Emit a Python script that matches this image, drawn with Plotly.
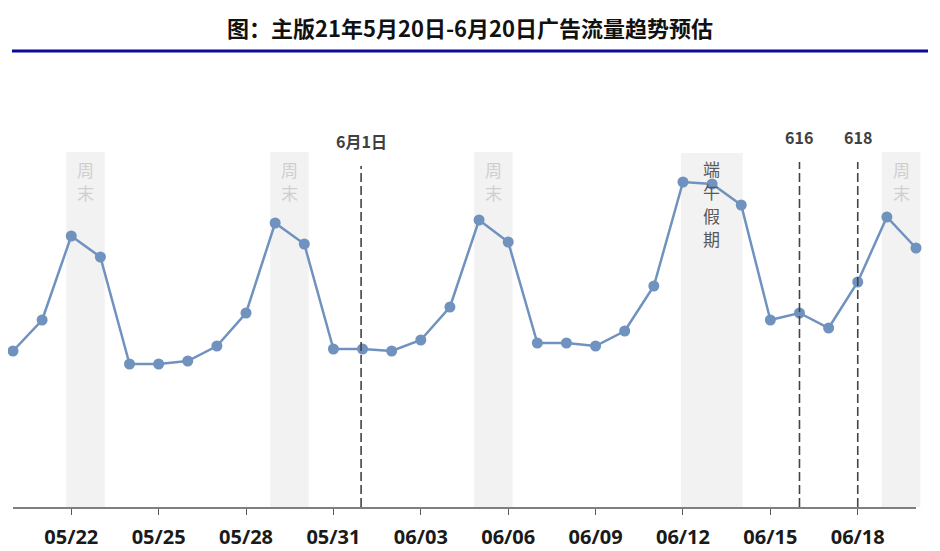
import plotly.graph_objects as go

# 每日广告流量 (相对值, 从图上估读)
dates = ["05/20", "05/21", "05/22", "05/23", "05/24", "05/25", "05/26", "05/27",
         "05/28", "05/29", "05/30", "05/31", "06/01", "06/02", "06/03", "06/04",
         "06/05", "06/06", "06/07", "06/08", "06/09", "06/10", "06/11", "06/12",
         "06/13", "06/14", "06/15", "06/16", "06/17", "06/18", "06/19", "06/20"]
traffic = [156, 187, 271, 250, 143, 143, 146, 161,
           194, 284, 263, 158, 158, 156, 167, 200,
           287, 265, 164, 164, 161, 176, 221, 325,
           323, 302, 187, 194, 179, 225, 290, 259]
tick_labels = ["05/22", "05/25", "05/28", "05/31", "06/03",
               "06/06", "06/09", "06/12", "06/15", "06/18"]

# 周末 / 节假日区间
weekends = [("05/22", "05/23"), ("05/29", "05/30"), ("06/05", "06/06"), ("06/19", "06/20")]
weekend_text = "周末"
holiday = ("06/12", "06/14")
holiday_text = "端午假期"
events = [("06/01", "6月1日"), ("06/16", "616"), ("06/18", "618")]

title = "图：主版21年5月20日-6月20日广告流量趋势预估"

OFF = 8  # body margin of the page
W, H = 940 - OFF, 551 - OFF
L, R, T, B = 13 - OFF, 24, 100 - OFF, 44
PW, PH = W - L - R, H - T - B
n = len(dates) - 1


def px(xp):
    return (xp - OFF - L) / PW


def py_(yp):
    return (H - B - (yp - OFF)) / PH


def idx_paper(d, pad=0.0):
    return (dates.index(d) + pad) / n


line_color = "#7092BE"
fig = go.Figure()

shapes = []
annotations = []

# vertical text, one annotation per character
def vtext(xc, y_first, text, color, step=23.5):
    for k, ch in enumerate(text):
        annotations.append(dict(x=xc, y=py_(y_first + step * k), xref="paper", yref="paper",
                                text=ch, showarrow=False, xanchor="center", yanchor="middle",
                                font=dict(family="Noto Sans CJK SC", size=17, color=color)))


for a, b in weekends:
    x0, x1 = idx_paper(a, -0.17), idx_paper(b, 0.15)
    shapes.append(dict(type="rect", xref="paper", yref="paper", x0=x0, x1=x1,
                       y0=0, y1=py_(152), fillcolor="#F2F2F2", line_width=0, layer="below"))
    vtext((x0 + x1) / 2, 169, weekend_text, "#CFCFCF")

x0, x1 = idx_paper(holiday[0], -0.07), idx_paper(holiday[1], 0.05)
shapes.append(dict(type="rect", xref="paper", yref="paper", x0=x0, x1=x1,
                   y0=0, y1=py_(153), fillcolor="#F2F2F2", line_width=0, layer="below"))
vtext((x0 + x1) / 2, 168, holiday_text, "#595959")

for d, label in events:
    top = 166 if label == "6月1日" else 162
    ly = 141 if label == "6月1日" else 137
    xe = idx_paper(d, -0.05 if label == "6月1日" else 0)
    shapes.append(dict(type="line", xref="paper", yref="paper", x0=xe, x1=xe,
                       y0=0, y1=py_(top), line=dict(color="#444444", width=1.6, dash="9px,4px")))
    annotations.append(dict(x=xe, y=py_(ly), xref="paper", yref="paper", text=label,
                            showarrow=False, xanchor="center", yanchor="middle",
                            font=dict(family="Noto Sans CJK SC", size=16, color="#404040",
                                      weight="bold")))

# 标题与下划线
annotations.append(dict(x=px(470), y=py_(27), xref="paper", yref="paper", text=title,
                        showarrow=False, xanchor="center", yanchor="middle",
                        font=dict(family="Noto Sans CJK SC", size=22, color="#111111",
                                  weight="bold")))
shapes.append(dict(type="line", xref="paper", yref="paper", x0=px(12), x1=px(928),
                   y0=py_(51), y1=py_(51), line=dict(color="#0A0A9A", width=3)))

fig.add_trace(go.Scatter(
    x=dates, y=traffic, mode="lines+markers",
    line=dict(color=line_color, width=2.5),
    marker=dict(color=line_color, size=11),
    cliponaxis=False, hoverinfo="x+y",
))

fig.update_layout(
    width=W, height=H,
    margin=dict(l=L, r=R, t=T, b=B),
    plot_bgcolor="white", paper_bgcolor="white",
    showlegend=False,
    shapes=shapes, annotations=annotations,
    xaxis=dict(type="category", range=[0, n], tickmode="array", tickvals=tick_labels,
               ticktext=tick_labels, ticks="outside", ticklen=6, tickcolor="#595959",
               tickwidth=1.2, showline=True, linecolor="#7F7F7F", linewidth=1.5,
               showgrid=False, zeroline=False, ticklabelstandoff=5, automargin=False,
               tickfont=dict(family="Open Sans", size=20, color="#1A1A1A", weight="bold")),
    yaxis=dict(range=[0, PH], visible=False, showgrid=False, zeroline=False,
               automargin=False),
)

fig.write_html("out.html")
